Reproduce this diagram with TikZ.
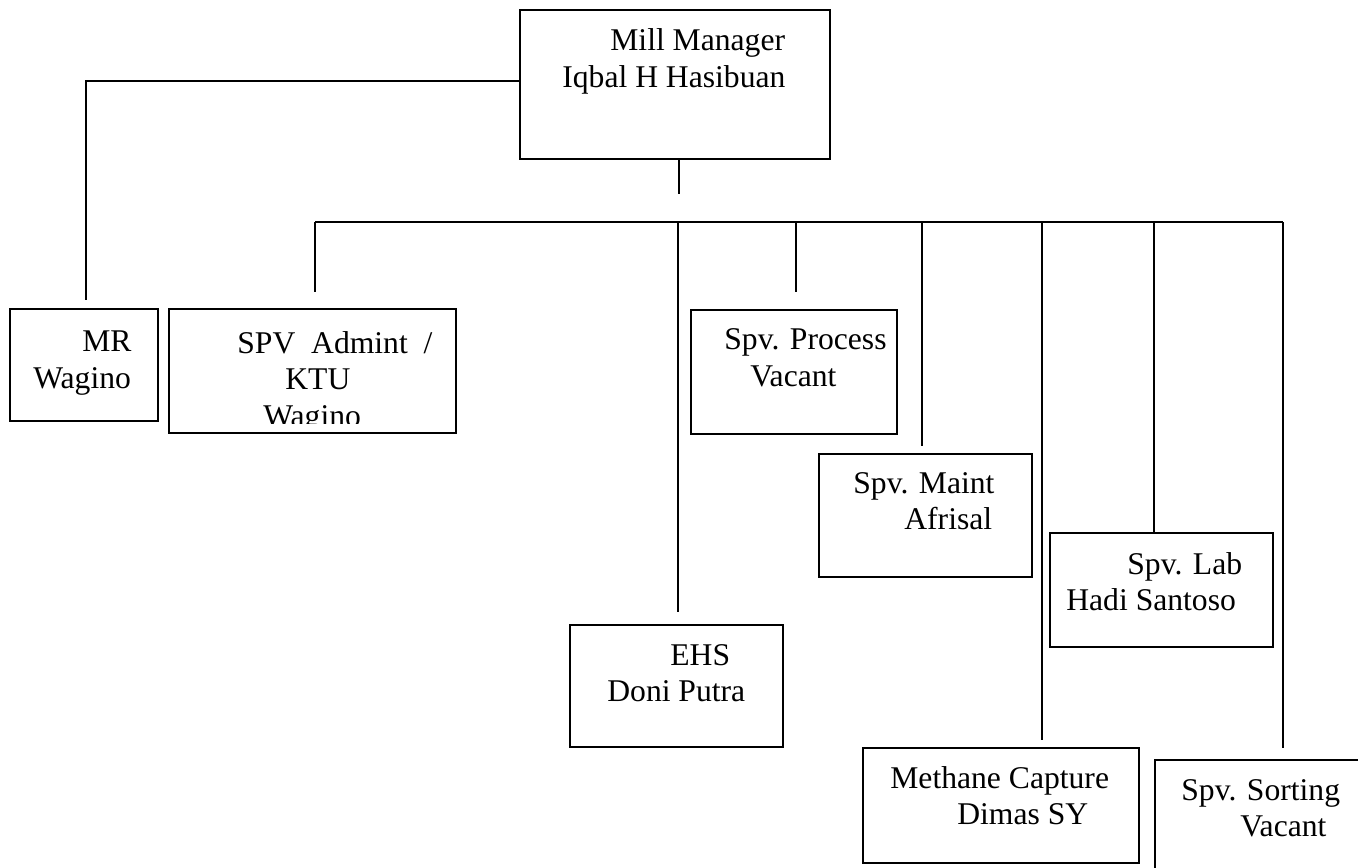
\documentclass[tikz,border=0pt]{standalone}
\usepackage{fontspec}
\setmainfont{Liberation Serif}
\usetikzlibrary{positioning}
\tikzset{
  obox/.style={draw=black,line width=1pt,inner sep=0pt,anchor=north west},
  olab/.style={anchor=base west,align=left,inner sep=0pt,font=\fontsize{18}{20.5}\selectfont},
  link/.style={draw=black,line width=1pt}
}

\begin{document}
\begin{tikzpicture}[x=0.02cm,y=-0.02cm]
  \useasboundingbox (0,0) rectangle (1358,867);
  \clip (0,0) rectangle (1358,867);
  % boxes
  \node[obox,minimum width=6.2cm,minimum height=2.98cm] (mm) at (519,9) {};
  \node[obox,minimum width=2.96cm,minimum height=2.24cm] (mr) at (9,308) {};
  \node[obox,minimum width=5.74cm,minimum height=2.48cm] (ktu) at (168,308) {};
  \node[obox,minimum width=4.12cm,minimum height=2.48cm] (proc) at (690,309) {};
  \node[obox,minimum width=4.26cm,minimum height=2.46cm] (maint) at (818,453) {};
  \node[obox,minimum width=4.46cm,minimum height=2.28cm] (lab) at (1049,532) {};
  \node[obox,minimum width=4.26cm,minimum height=2.44cm] (ehs) at (569,624) {};
  \node[obox,minimum width=5.52cm,minimum height=2.30cm] (meth) at (862,747) {};
  \node[obox,minimum width=5.2cm,minimum height=3.0cm] (sort) at (1154,759) {};
  % admin text runs past the bottom of its frame
  \begin{scope}
    \clip (160,300) rectangle (465,423);
    \node[olab] (ktutxt) at (237,426) {SPV\ \ Admint\ \ /\\\hspace*{0.96cm}KTU\\\hspace*{0.52cm}Wagino};
  \end{scope}
  % texts (placed at the baseline of the last line)
  \node[olab] (mmtxt) at (562,87) {\hspace*{0.96cm}Mill Manager\\Iqbal H Hasibuan};
  \node[olab] (mrtxt) at (33,388) {\hspace*{0.98cm}MR\\Wagino};
  \node[olab] (proctxt) at (724,386) {Spv. Process\\\hspace*{0.52cm}Vacant};
  \node[olab] (mainttxt) at (853,529) {Spv. Maint\\\hspace*{1.02cm}Afrisal};
  \node[olab] (labtxt) at (1066,610) {\hspace*{1.22cm}Spv. Lab\\Hadi Santoso};
  \node[olab] (ehstxt) at (607,701) {\hspace*{1.26cm}EHS\\Doni Putra};
  \node[olab] (methtxt) at (890,824) {Methane Capture\\\hspace*{1.34cm}Dimas SY};
  \node[olab] (sorttxt) at (1181,836) {Spv. Sorting\\\hspace*{1.18cm}Vacant};
  % connectors
  \coordinate (stem) at (679,194);
  \coordinate (mr-end) at (86,300);
  \coordinate (busl) at (315,222);
  \coordinate (busr) at (1283,222);
  \coordinate (ktu-end) at (315,292);
  \coordinate (ehs-end) at (678,612);
  \coordinate (proc-end) at (796,292);
  \coordinate (maint-end) at (922,446);
  \coordinate (meth-end) at (1042,740);
  \coordinate (lab-end) at (1154,532);
  \coordinate (sort-end) at (1283,748);
  \draw[link] (stem |- mm.south) -- (stem);
  \draw[link] ([yshift=0.07cm]mm.west) -| (mr-end);
  \draw[link] (busl) -- (busr);
  \foreach \n in {ktu,ehs,proc,maint,meth,lab,sort}
    \draw[link] (\n-end |- busl) -- (\n-end);
\end{tikzpicture}
\end{document}
